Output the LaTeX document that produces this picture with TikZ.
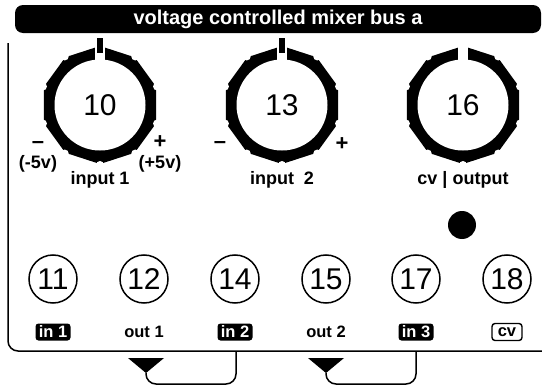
\documentclass[tikz,border=0pt]{standalone}
\usepackage{fontspec}
\setmainfont{Liberation Sans}
\usepackage{tikz}

\begin{document}
\begin{tikzpicture}[
  x=1pt, y=-1pt,
  titlebar/.style={fill=black, text=white, rounded corners=8pt,
                   minimum width=526pt, minimum height=28pt, inner sep=0pt,
                   font=\fontsize{20}{20}\selectfont\bfseries},
  knobnum/.style={circle, fill=white, minimum size=91pt, inner sep=0pt,
                  font=\fontsize{30}{30}\selectfont},
  jack/.style={circle, draw, line width=1.5pt, fill=white,
               minimum size=48pt, inner sep=0pt,
               font=\fontsize{30}{30}\selectfont},
  knoblabel/.style={inner sep=1pt, font=\fontsize{18}{18}\selectfont\bfseries},
  signlabel/.style={inner sep=0pt, font=\fontsize{22}{22}\selectfont\bfseries},
  outlabel/.style={inner sep=2pt, font=\fontsize{16.5}{17}\selectfont\bfseries},
  injack/.style={outlabel, fill=black, text=white, rounded corners=3pt,
                 minimum height=17pt, minimum width=35pt},
  cvjack/.style={outlabel, draw, line width=1.4pt, rounded corners=3pt,
                 minimum height=17pt, minimum width=30pt},
  panel/.style={line width=1.5pt, rounded corners=10pt},
  patch/.style={line width=1.5pt, rounded corners=10pt}
]
\useasboundingbox (0,0) rectangle (542,388);

\node[titlebar] (title) at (278,19) {voltage controlled mixer bus a};

\draw[panel] (8,43) -- (8,351) -- (542,351);

% knobs: decagon ring, notches, gap at the top
\foreach \n/\x/\s in {10/100/1, 13/282/1, 16/463/0}{
  \begin{scope}[shift={(\x,105)}]
    \fill (90:59) \foreach \a in {126,162,...,414}{ -- (\a:59)} -- cycle;
    \foreach \a in {90,126,...,414} \fill[white] (\a:60) circle (4pt);
    \node[knobnum] (k\n) at (0,0) {\n};
    \fill[white] (-5,-63) rectangle (5,-44);
    \ifnum\s=1 \fill (-3,-67) rectangle (3,-52); \fi
  \end{scope}
}

\node[signlabel] (m10) at (38,145) {--};
\node[knoblabel] (v10m) at (38,164) {(-5v)};
\node[signlabel] (p10) at (160,142) {+};
\node[knoblabel] (v10p) at (160,164) {(+5v)};
\node[signlabel] (m13) at (220,145) {--};
\node[signlabel] (p13) at (342,144) {+};

\node[knoblabel] (l10) at (100,180) {input 1};
\node[knoblabel] (l13) at (282,180) {input~ 2};
\node[knoblabel] (l16) at (463,180) {cv | output};

\node[circle, fill, minimum size=28pt, inner sep=0pt] (led) at (462,225) {};

% jacks and their labels
\foreach \n/\x/\t/\s in {11/53/in 1/injack, 12/144/out 1/outlabel,
                         14/235/in 2/injack, 15/326/out 2/outlabel,
                         17/416/in 3/injack, 18/507/cv/cvjack}{
  \node[jack] (j\n) at (\x,279) {\n};
  \node[\s] (t\n) at (\x,332) {\t};
}

% patch links under the panel
\foreach \o/\i/\xo/\xi in {12/14/146/236, 15/17/326/416}{
  \fill (\xo-18,358) -- (\xo+18,358) -- (\xo,373) -- cycle;
  \coordinate (v\o) at (\xo,373);
  \coordinate (p\i) at (\xi,351);
  \draw[patch] (p\i) |- (\xo,384) -- (v\o);
}

\end{tikzpicture}
\end{document}
